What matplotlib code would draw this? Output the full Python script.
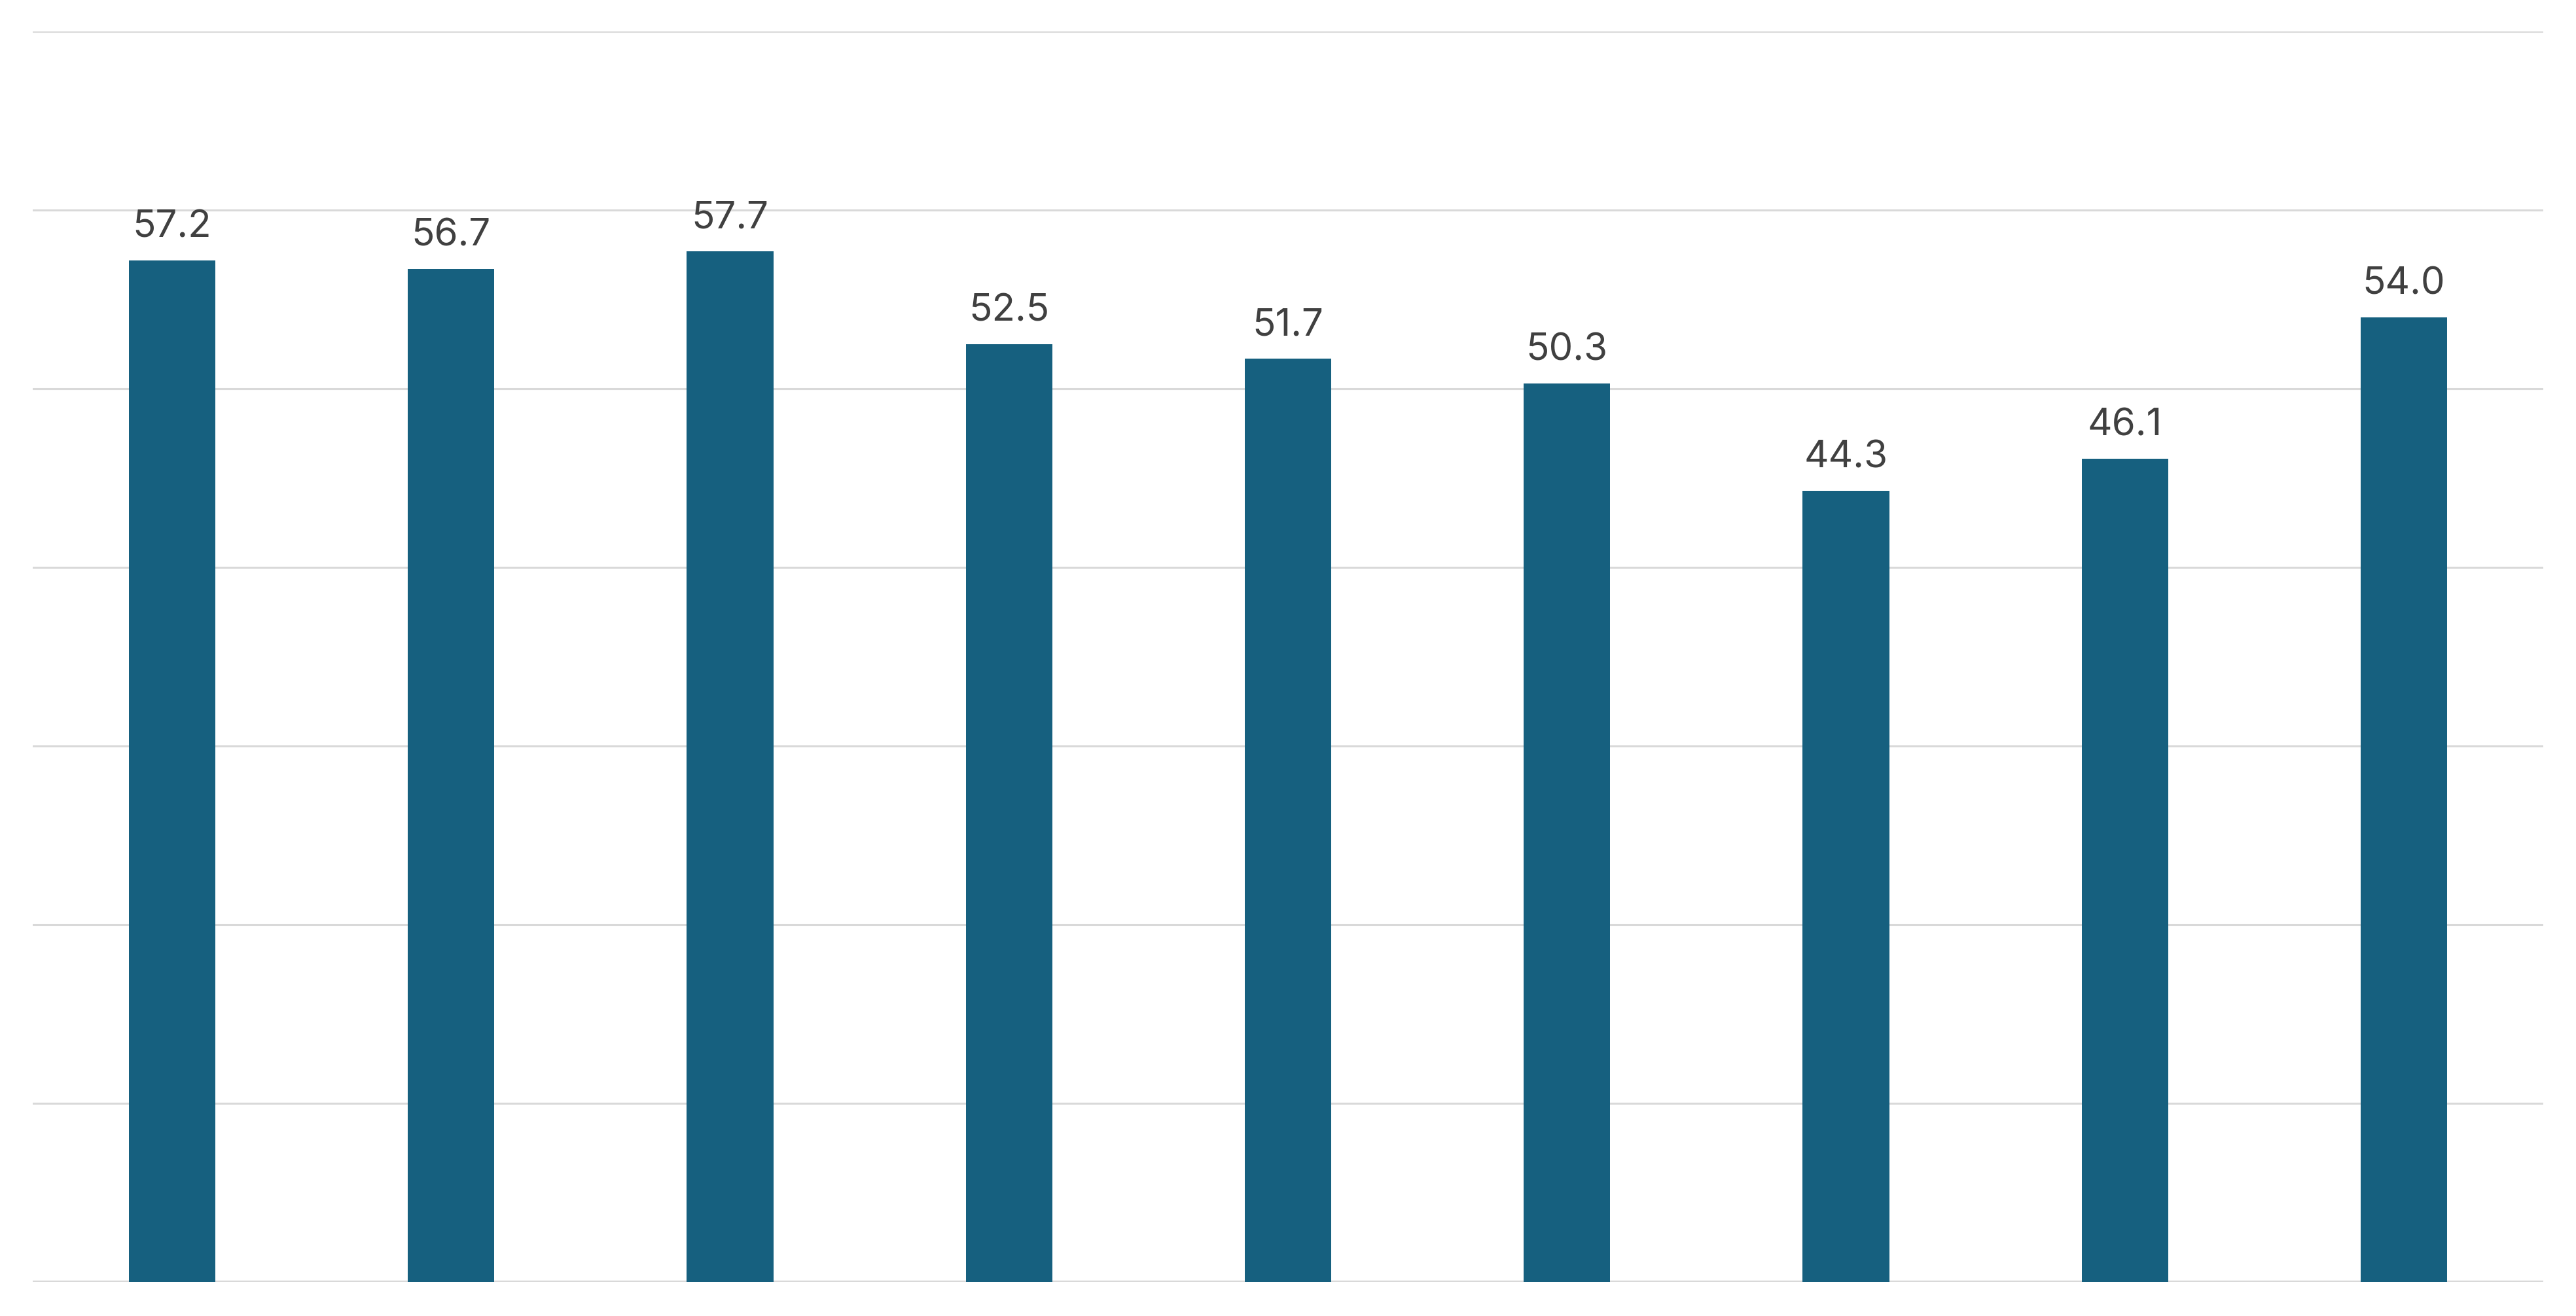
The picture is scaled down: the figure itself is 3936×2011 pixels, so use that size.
import matplotlib.pyplot as plt

# bar values, left to right
positions = list(range(9))
values = [57.2, 56.7, 57.7, 52.5, 51.7, 50.3, 44.3, 46.1, 54.0]
labels = [f"{v:.1f}" for v in values]

plt.rcParams['font.family'] = ['Inter', 'DejaVu Sans']

fig = plt.figure(figsize=(19.68, 10.055), dpi=200)
ax = fig.add_axes([0.0127, 0.0259, 0.9746, 0.9501])

bars = ax.bar(positions, values, width=0.31, color="#16607f", zorder=3)

# value labels above the bars
for b, lab in zip(bars, labels):
    ax.annotate(lab, (b.get_x() + b.get_width() / 2, b.get_height()),
                xytext=(0, 8.5), textcoords="offset points",
                ha="center", va="bottom", fontsize=21, color="#404040")

ax.set_xlim(-0.5, 8.5)
ax.set_ylim(0, 70)
ax.set_yticks(range(0, 71, 10))
ax.yaxis.grid(True, color="#d9d9d9", linewidth=1.1, zorder=0)
ax.axhline(0, color="#d9d9d9", linewidth=1.6, zorder=2)
ax.tick_params(left=False, bottom=False, labelleft=False, labelbottom=False)
for s in ax.spines.values():
    s.set_visible(False)

plt.savefig("out.png", dpi=200)
